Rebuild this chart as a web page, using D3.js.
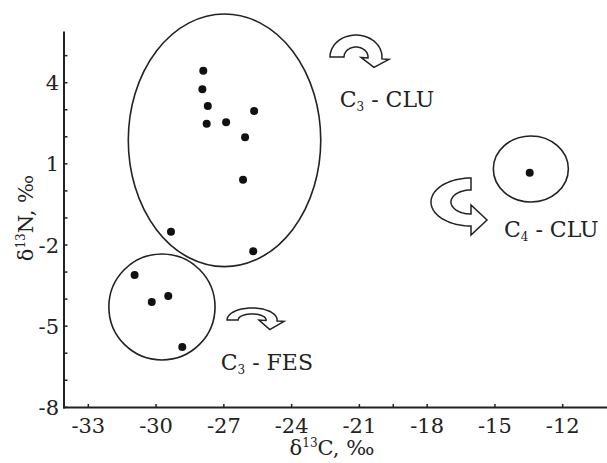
<!DOCTYPE html>
<html><head><meta charset="utf-8">
<script src="https://cdn.jsdelivr.net/npm/d3@7"></script>
<style>body{margin:0;background:#fff}svg{display:block}text{font-family:"DejaVu Serif",serif;fill:#222}</style>
</head><body><svg id="c" width="607" height="463"></svg>
<script>
// Data (δ13C, δ15N in ‰)
const c3cluX = [-27.91, -27.95, -27.71, -27.76, -26.90, -25.66, -26.06, -26.15, -29.34, -25.70];
const c3cluY = [4.44, 3.76, 3.14, 2.48, 2.54, 2.95, 1.98, 0.41, -1.51, -2.23];
const c3fesX = [-30.95, -30.19, -29.46, -28.84];
const c3fesY = [-3.11, -4.11, -3.89, -5.77];
const c4cluX = [-13.46];
const c4cluY = [0.67];
const xTickValues = [-33, -30, -27, -24, -21, -18, -15, -12];
const xMinorTicks = [-19.5];
const yTickValues = [4, 1, -2, -5, -8];
const yMinorTicks = [5, 3, 2, 0, -1, -3, -4, -6, -7];
// group ellipses: centre x, centre y, radius x, radius y (data units)
const groupNames = ["C3 - CLU", "C3 - FES", "C4 - CLU"];
const ellCx = [-26.97, -29.74, -13.41];
const ellCy = [1.87, -4.29, 0.81];
const ellRx = [4.26, 2.35, 1.66];
const ellRy = [4.67, 1.96, 1.22];
// label anchors (data units)
const labelX = [-21.87, -27.14, -14.60];
const labelY = [3.10, -6.62, -1.70];
const labelMain = ["C", "C", "C"];
const labelSub = ["3", "3", "4"];
const labelRest = [" - CLU", " - FES", " - CLU"];
// arrow anchors (data units)
const arrowX = [-21.15, -25.75, -16.06];
const arrowY = [4.95, -4.77, -0.41];

const svg = d3.select("#c");
const x = d3.scaleLinear().domain([-33, -12]).range([88.3, 562.7]);
const y = d3.scaleLinear().domain([4, -8]).range([82.7, 407.3]);
const axisLeft = 64, axisBottom = 407.5, axisTop = 31.5, axisRight = 607;

// axes lines
svg.append("line").attr("x1", axisLeft).attr("x2", axisLeft).attr("y1", axisTop).attr("y2", axisBottom + 1)
  .attr("stroke", "#222").attr("stroke-width", 2);
svg.append("line").attr("x1", axisLeft - 1).attr("x2", axisRight).attr("y1", axisBottom).attr("y2", axisBottom)
  .attr("stroke", "#222").attr("stroke-width", 2);

// ticks (inward)
const tk = 3.5;
svg.selectAll(".xt").data(xTickValues.concat(xMinorTicks)).enter().append("line")
  .attr("x1", d => x(d)).attr("x2", d => x(d)).attr("y1", axisBottom).attr("y2", axisBottom - tk)
  .attr("stroke", "#222").attr("stroke-width", 1.5);
svg.selectAll(".yt").data(yTickValues.concat(yMinorTicks)).enter().append("line")
  .attr("y1", d => y(d)).attr("y2", d => y(d)).attr("x1", axisLeft).attr("x2", axisLeft + tk)
  .attr("stroke", "#222").attr("stroke-width", 1.5);

// tick labels
svg.selectAll(".xl").data(xTickValues).enter().append("text")
  .attr("x", d => x(d)).attr("y", 433).attr("text-anchor", "middle")
  .attr("font-size", 21).text(d => d);
svg.selectAll(".yl").data(yTickValues).enter().append("text")
  .attr("x", 59).attr("y", d => y(d) + 7.5).attr("text-anchor", "end")
  .attr("font-size", 21).text(d => d);

// axis titles
const xt = svg.append("text").attr("x", 332).attr("y", 455).attr("text-anchor", "middle").attr("font-size", 21);
xt.append("tspan").text("δ");
xt.append("tspan").attr("font-size", 12).attr("dy", -8).text("13");
xt.append("tspan").attr("dy", 8).text("C, ‰");
const yt = svg.append("text").attr("transform", "translate(33,218) rotate(-90)").attr("text-anchor", "middle").attr("font-size", 21);
yt.append("tspan").text("δ");
yt.append("tspan").attr("font-size", 12).attr("dy", -8).text("13");
yt.append("tspan").attr("dy", 8).text("N, ‰");

// ellipses
svg.selectAll(".el").data(groupNames).enter().append("ellipse")
  .attr("cx", (d, i) => x(ellCx[i])).attr("cy", (d, i) => y(ellCy[i]))
  .attr("rx", (d, i) => x(ellCx[i] + ellRx[i]) - x(ellCx[i]))
  .attr("ry", (d, i) => y(ellCy[i] - ellRy[i]) - y(ellCy[i]))
  .attr("fill", "none").attr("stroke", "#222").attr("stroke-width", 1.6);

// points
const pts = [];
c3cluX.forEach((v, i) => pts.push([v, c3cluY[i]]));
c3fesX.forEach((v, i) => pts.push([v, c3fesY[i]]));
c4cluX.forEach((v, i) => pts.push([v, c4cluY[i]]));
svg.selectAll(".pt").data(pts).enter().append("circle")
  .attr("cx", d => x(d[0])).attr("cy", d => y(d[1])).attr("r", 4).attr("fill", "#111");

// curved block arrows
function arrowPath(cx, cy, rox, roy, rix, riy, t0, t1, w, len) {
  const r = Math.PI / 180, N = 40, P = [];
  for (let i = 0; i <= N; i++) { const t = (t0 + (t1 - t0) * i / N) * r; P.push([cx + rox * Math.cos(t), cy - roy * Math.sin(t)]); }
  const te = t1 * r;
  const po = [cx + rox * Math.cos(te), cy - roy * Math.sin(te)];
  const pi = [cx + rix * Math.cos(te), cy - riy * Math.sin(te)];
  let ux = po[0] - pi[0], uy = po[1] - pi[1]; const ul = Math.hypot(ux, uy); ux /= ul; uy /= ul;
  const s = Math.sign(t1 - t0);
  const rm = [(rox + rix) / 2, (roy + riy) / 2];
  let tx = -rm[0] * Math.sin(te) * s, ty = -rm[1] * Math.cos(te) * s; const tl = Math.hypot(tx, ty); tx /= tl; ty /= tl;
  const mid = [(po[0] + pi[0]) / 2, (po[1] + pi[1]) / 2];
  P.push([po[0] + ux * w, po[1] + uy * w]);
  P.push([mid[0] + tx * len, mid[1] + ty * len]);
  P.push([pi[0] - ux * w, pi[1] - uy * w]);
  for (let i = N; i >= 0; i--) { const t = (t0 + (t1 - t0) * i / N) * r; P.push([cx + rix * Math.cos(t), cy - riy * Math.sin(t)]); }
  return "M" + P.map(p => p[0].toFixed(1) + "," + p[1].toFixed(1)).join("L") + "Z";
}
const arrowShapes = [
  [26, 22, 12, 10, 180, -5, 7, 9],
  [25, 12, 14, 6, 180, -5, 7, 9],
  [40, 24, 20, 12, 90, 270, 9, 16]
];
svg.selectAll(".ar").data(arrowShapes).enter().append("path")
  .attr("d", (a, i) => arrowPath(x(arrowX[i]), y(arrowY[i]), a[0], a[1], a[2], a[3], a[4], a[5], a[6], a[7]))
  .attr("fill", "#fff").attr("stroke", "#222").attr("stroke-width", 1.5).attr("stroke-linejoin", "miter");

// group labels
groupNames.forEach((g, i) => {
  const t = svg.append("text").attr("x", x(labelX[i])).attr("y", y(labelY[i])).attr("font-size", 22);
  t.append("tspan").text(labelMain[i]);
  t.append("tspan").attr("font-size", 12).attr("dy", 4).text(labelSub[i]);
  t.append("tspan").attr("dy", -4).text(labelRest[i]);
});
</script></body></html>
